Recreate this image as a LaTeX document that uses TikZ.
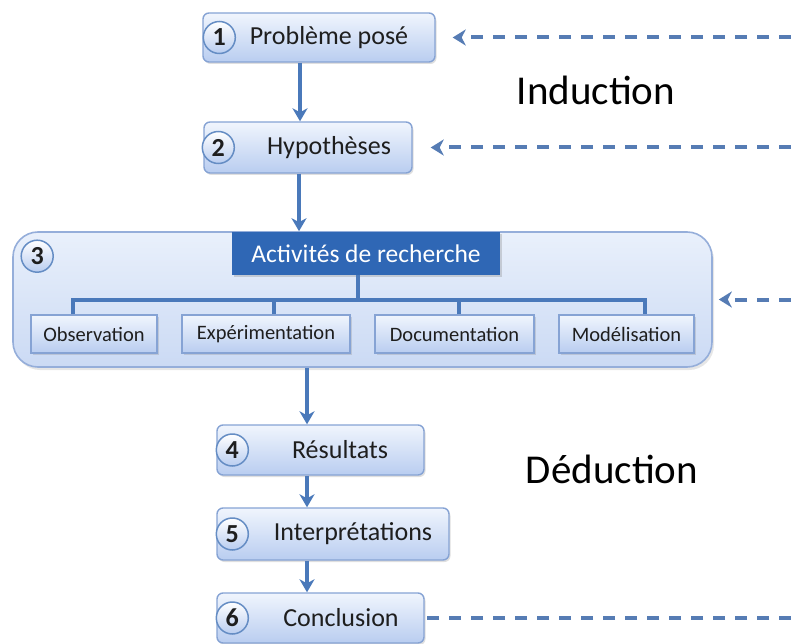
\documentclass[tikz,border=0pt]{standalone}
\usepackage{fontspec}
\setmainfont{Carlito}
\usetikzlibrary{arrows.meta,positioning,shadows}
\definecolor{boxedge}{HTML}{86A3D4}
\definecolor{boxtop}{HTML}{F0F5FD}
\definecolor{boxbot}{HTML}{B9CDF0}
\definecolor{grpedge}{HTML}{95AEDA}
\definecolor{grptop}{HTML}{E9F0FB}
\definecolor{grpbot}{HTML}{CBDAF4}
\definecolor{hdrblue}{HTML}{2F67B5}
\definecolor{flowblue}{HTML}{4A79BA}
\definecolor{dashblue}{HTML}{567CB4}
\definecolor{txt}{HTML}{1E1E1E}

\begin{document}
\begin{tikzpicture}[x=1pt, y=-1pt,
    every node/.style={text=txt},
    stepbox/.style={draw=boxedge, line width=1.4pt, rounded corners=6pt,
        top color=boxtop, bottom color=boxbot, inner sep=0pt,
        font=\fontsize{26}{30}\selectfont,
        drop shadow={shadow xshift=1.5pt, shadow yshift=-2pt, opacity=0.25}},
    subbox/.style={draw=boxedge, line width=1.3pt, top color=boxtop, bottom color=boxbot,
        minimum height=38pt, inner sep=0pt, font=\fontsize{20.5}{24}\selectfont,
        drop shadow={shadow xshift=1.5pt, shadow yshift=-2pt, opacity=0.25}},
    numdot/.style={circle, draw=flowblue!85, line width=1.5pt, top color=white,
        bottom color=boxbot, minimum size=32pt, inner sep=0pt,
        font=\fontsize{26}{28}\selectfont\bfseries},
    flow/.style={draw=flowblue, line width=3.5pt, -{Stealth[length=13pt, width=15pt, inset=4pt]}},
    feedback/.style={draw=dashblue, line width=4pt, dash pattern=on 12pt off 10pt},
    bigword/.style={font=\fontsize{41}{46}\selectfont, anchor=base, text=black}]
    \useasboundingbox (0,0) rectangle (791,644);
    % Induction steps
    \node[stepbox, minimum width=232pt, minimum height=49pt] (b1) at (319,37.5) {\hspace*{20pt}Problème posé};
    \node[numdot] (n1) at ([xshift=17pt]b1.west) {1};
    \node[stepbox, minimum width=208pt, minimum height=51pt] (b2) at (308,147.5) {\hspace*{42pt}Hypothèses};
    \node[numdot] (n2) at ([xshift=15pt]b2.west) {2};
    % Research activities
    \node[draw=grpedge, line width=1.6pt, rounded corners=25pt, top color=grptop, bottom color=grpbot,
        minimum width=699pt, minimum height=135pt,
        drop shadow={shadow xshift=2pt, shadow yshift=-3pt, opacity=0.2}] (grp) at (362.5,299.5) {};
    \node[numdot] (n3) at ([xshift=25pt, yshift=-25pt]grp.north west) {3};
    \node[fill=hdrblue, text=white, minimum width=268pt, minimum height=43pt, inner sep=0pt,
        font=\fontsize{25.5}{30}\selectfont,
        drop shadow={shadow xshift=1.5pt, shadow yshift=-2pt, opacity=0.3}] (hdr) at (366,253.5) {Activités de recherche};
    \node[subbox, minimum width=126pt] (obs) at (94,334) {Observation};
    \node[subbox, minimum width=168pt] (exp) at (266,334) {Expérimentation};
    \node[subbox, minimum width=159pt] (doc) at (454.5,334) {Documentation};
    \node[subbox, minimum width=135pt] (mod) at (626.5,334) {Modélisation};
    % Tree
    \coordinate (bus) at (358,300);
    \draw[flowblue, line width=3.5pt] ([xshift=-8pt]hdr.south) -- (bus);
    \draw[flowblue, line width=3.5pt] ([xshift=-21pt]obs.north) |- ([xshift=18.5pt]mod.north |- bus) -- ([xshift=18.5pt]mod.north);
    \draw[flowblue, line width=3.5pt] ([xshift=8pt]exp.north) -- ([xshift=8pt]exp.north |- bus);
    \draw[flowblue, line width=3.5pt] ([xshift=4.5pt]doc.north) -- ([xshift=4.5pt]doc.north |- bus);
    % Deduction steps
    \node[stepbox, minimum width=207pt, minimum height=50pt] (b4) at (320.5,450) {\hspace*{39pt}Résultats};
    \node[numdot] (n4) at ([xshift=16pt]b4.west) {4};
    \node[stepbox, minimum width=232pt, minimum height=52pt] (b5) at (333,534) {\hspace*{40pt}Interprétations};
    \node[numdot] (n5) at ([xshift=16pt]b5.west) {5};
    \node[stepbox, minimum width=207pt, minimum height=50pt] (b6) at (320.5,618) {\hspace*{41pt}Conclusion};
    \node[numdot] (n6) at ([xshift=16pt]b6.west) {6};
    % Flow arrows
    \draw[flow] ([xshift=-19pt]b1.south) -- ([xshift=-19pt]b1.south |- b2.north);
    \draw[flow] ([xshift=-9pt]b2.south) -- ([xshift=-9pt]b2.south |- grp.north);
    \draw[flow] ([xshift=-13.5pt]b4.north |- grp.south) -- ([xshift=-13.5pt]b4.north);
    \draw[flow] ([xshift=-13.5pt]b4.south) -- ([xshift=-13.5pt]b4.south |- b5.north);
    \draw[flow] ([xshift=-13.5pt]b4.south |- b5.south) -- ([xshift=-13.5pt]b4.south |- b6.north);
    % Feedback lines
    \coordinate (edge) at (791,0);
    \draw[feedback, -{Stealth[length=13pt, width=16pt, inset=4pt]}] (b1.east -| edge) -- ([xshift=17pt]b1.east);
    \draw[feedback, -{Stealth[length=13pt, width=16pt, inset=4pt]}] (b2.east -| edge) -- ([xshift=18pt]b2.east);
    \draw[feedback, -{Stealth[length=13pt, width=16pt, inset=4pt]}] (grp.east -| edge) -- ([xshift=6pt]grp.east);
    \draw[feedback] (b6.east -| edge) -- (b6.east);
    % Labels
    \node[bigword] (ind) at (596,105) {Induction};
    \node[bigword] (ded) at (612,483) {Déduction};
\end{tikzpicture}
\end{document}
